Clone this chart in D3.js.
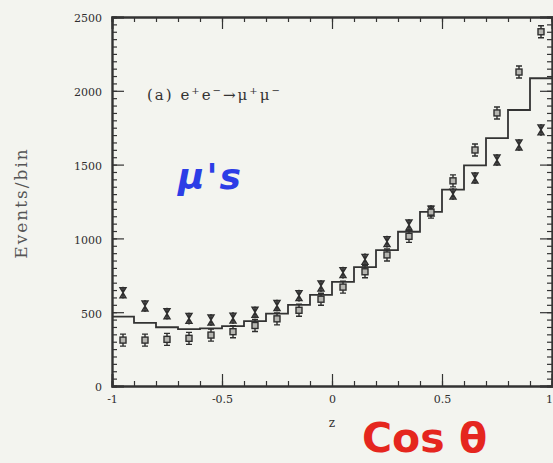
<!DOCTYPE html>
<html>
<head>
<meta charset="utf-8">
<script src="https://cdn.jsdelivr.net/npm/d3@7"></script>
<style>
  html, body { margin: 0; padding: 0; background: #f3f4ef; }
  svg { display: block; }
  .tick text { font-family: "DejaVu Serif", serif; fill: #2e2e2e; }
</style>
</head>
<body>
<svg id="chart" width="553" height="463"></svg>
<script>
// Angular distribution of e+e- -> mu+mu-, 20 bins in z = cos(theta)
const binCenters = [-0.95, -0.85, -0.75, -0.65, -0.55, -0.45, -0.35, -0.25, -0.15, -0.05,
                     0.05,  0.15,  0.25,  0.35,  0.45,  0.55,  0.65,  0.75,  0.85,  0.95];
const binWidth = 0.1;

// measured counts, first sample (bow-tie markers)
const crossCounts = [632, 542, 490, 458, 447, 460, 500, 545, 612, 678,
                     768, 858, 978, 1091, 1185, 1300, 1409, 1531, 1633, 1735];
// measured counts, second sample (open squares)
const squareCounts = [311, 311, 316, 323, 345, 368, 410, 455, 513, 588,
                      670, 774, 888, 1014, 1178, 1390, 1599, 1850, 2127, 2400];
// expected distribution (histogram)
const modelCounts = [470, 428, 398, 386, 390, 405, 440, 490, 550, 618,
                     705, 805, 920, 1045, 1180, 1330, 1495, 1680, 1870, 2085];

const yMajorTicks = [0, 500, 1000, 1500, 2000, 2500];
const yTickLabels = ["0", "500", "1000", "1500", "2000", "2500"];
const xMajorTicks = [-1, -0.5, 0, 0.5, 1];
const xTickLabels = ["-1", "-0.5", "0", "0.5", "1"];

const svg = d3.select("#chart");
const frame = { left: 112, right: 552, top: 17, bottom: 386 };

const x = d3.scaleLinear().domain([-1, 1]).range([frame.left, frame.right]);
const y = d3.scaleLinear().domain([0, 2500]).range([frame.bottom, frame.top]);

const ink = "#333";

const yMinor = d3.range(0, 2501, 50);
const xMinor = d3.range(-10, 11).map(i => i / 10);

function styleAxis(g) {
  g.selectAll("path.domain").attr("stroke", ink).attr("stroke-width", 1.9);
  g.selectAll(".tick line").attr("stroke", ink).attr("stroke-width", 1.2);
}

// left axis: minor + major ticks pointing inward
svg.append("g").attr("transform", `translate(${frame.left},0)`)
  .call(d3.axisLeft(y).tickValues(yMinor).tickSize(-5).tickFormat(""))
  .call(styleAxis);
svg.append("g").attr("transform", `translate(${frame.left},0)`)
  .call(d3.axisLeft(y).tickValues(yMajorTicks).tickSize(-12).tickPadding(10)
        .tickFormat((d, i) => yTickLabels[i]))
  .call(styleAxis)
  .call(g => g.selectAll(".tick text").attr("font-size", 11).attr("dy", "0.45em"));

// right axis
svg.append("g").attr("transform", `translate(${frame.right},0)`)
  .call(d3.axisRight(y).tickValues(yMinor).tickSize(-5).tickFormat(""))
  .call(styleAxis);
svg.append("g").attr("transform", `translate(${frame.right},0)`)
  .call(d3.axisRight(y).tickValues(yMajorTicks).tickSize(-12).tickFormat(""))
  .call(styleAxis);

// bottom axis
svg.append("g").attr("transform", `translate(0,${frame.bottom})`)
  .call(d3.axisBottom(x).tickValues(xMinor).tickSize(-5).tickFormat(""))
  .call(styleAxis);
svg.append("g").attr("transform", `translate(0,${frame.bottom})`)
  .call(d3.axisBottom(x).tickValues(xMajorTicks).tickSize(-12).tickPadding(9)
        .tickFormat((d, i) => xTickLabels[i]))
  .call(styleAxis)
  .call(g => g.selectAll(".tick text").attr("font-size", 11)
    .filter(d => d === 1).attr("dx", -3));

// top axis
svg.append("g").attr("transform", `translate(0,${frame.top})`)
  .call(d3.axisTop(x).tickValues(xMinor).tickSize(-5).tickFormat(""))
  .call(styleAxis);
svg.append("g").attr("transform", `translate(0,${frame.top})`)
  .call(d3.axisTop(x).tickValues(xMajorTicks).tickSize(-12).tickFormat(""))
  .call(styleAxis);

// expected histogram as a step line
const stepPoints = binCenters.map((c, i) => [c - binWidth / 2, modelCounts[i]]);
stepPoints.push([binCenters[binCenters.length - 1] + binWidth / 2, modelCounts[modelCounts.length - 1]]);
svg.append("path")
  .datum(stepPoints)
  .attr("fill", "none")
  .attr("stroke", "#333")
  .attr("stroke-width", 1.8)
  .attr("d", d3.line().x(d => x(d[0])).y(d => y(d[1])).curve(d3.curveStepAfter));

// bow-tie markers with error caps
svg.append("g").selectAll("path")
  .data(binCenters.map((c, i) => [c, crossCounts[i]]))
  .join("path")
  .attr("transform", d => `translate(${x(d[0])},${y(d[1])})`)
  .attr("d", "M-3,-5H3L-3,5H3Z M0,-6V6")
  .attr("fill", "#7a7a7a")
  .attr("stroke", "#2e2e2e")
  .attr("stroke-width", 1.4);

// open squares with error bars
svg.append("g").selectAll("g")
  .data(binCenters.map((c, i) => [c, squareCounts[i]]))
  .join("g")
  .attr("transform", d => `translate(${x(d[0])},${y(d[1])})`)
  .call(g => g.append("path")
    .attr("d", "M0,-6V-3M0,3V6M-3,-6H3M-3,6H3")
    .attr("stroke", "#2e2e2e").attr("stroke-width", 1.4).attr("fill", "none"))
  .call(g => g.append("rect")
    .attr("x", -3).attr("y", -3).attr("width", 6).attr("height", 6)
    .attr("fill", "#b5b5b0").attr("stroke", "#2e2e2e").attr("stroke-width", 1.4));

// axis titles
svg.append("text")
  .attr("x", x(0)).attr("y", 427)
  .attr("text-anchor", "middle")
  .attr("font-family", "DejaVu Serif, serif").attr("font-size", 12)
  .attr("fill", ink)
  .text("z");

svg.append("text")
  .attr("transform", "translate(27,203) rotate(-90)")
  .attr("text-anchor", "middle")
  .attr("font-family", "DejaVu Serif, serif").attr("font-size", 17)
  .attr("letter-spacing", 2)
  .attr("fill", "#555")
  .text("Events/bin");

// process label
const proc = svg.append("text")
  .attr("x", 147).attr("y", 100)
  .attr("font-family", "DejaVu Serif, serif").attr("font-size", 15)
  .attr("letter-spacing", 2)
  .attr("fill", ink);
proc.append("tspan").text("(a)  e");
proc.append("tspan").attr("dy", -6).attr("font-size", 10).text("+");
proc.append("tspan").attr("dy", 6).text("e");
proc.append("tspan").attr("dy", -6).attr("font-size", 10).text("−");
proc.append("tspan").attr("dy", 6).text("→μ");
proc.append("tspan").attr("dy", -6).attr("font-size", 10).text("+");
proc.append("tspan").attr("dy", 6).text("μ");
proc.append("tspan").attr("dy", -6).attr("font-size", 10).text("−");

// pen annotations
svg.append("text")
  .attr("x", 178).attr("y", 189)
  .attr("font-family", "DejaVu Sans, sans-serif").attr("font-size", 36)
  .attr("font-weight", "bold").attr("font-style", "italic")
  .attr("letter-spacing", 2)
  .attr("fill", "#2c3de6")
  .text("μ's");

svg.append("text")
  .attr("x", 362).attr("y", 452)
  .attr("font-family", "DejaVu Sans, sans-serif").attr("font-size", 41)
  .attr("font-weight", "bold")
  .attr("fill", "#e5261e")
  .text("Cos θ");
</script>
</body>
</html>
